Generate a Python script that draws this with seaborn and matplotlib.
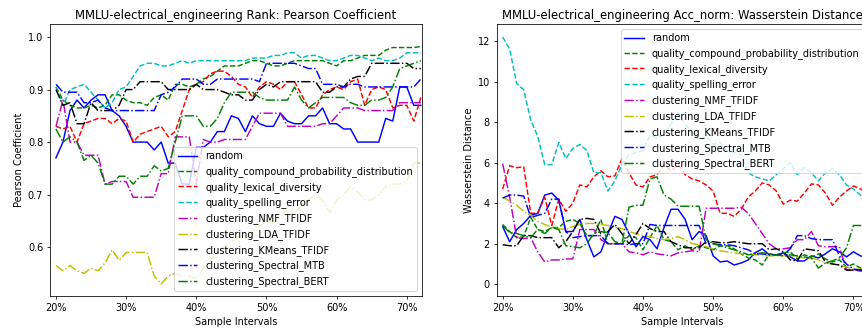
import numpy as np
import matplotlib
matplotlib.use("Agg")
import matplotlib.pyplot as plt
from matplotlib.ticker import FuncFormatter
import seaborn as sns

# sample intervals in percent
pcts = np.arange(20, 73)

# --- Rank: Pearson Coefficient ---
rank_random = [.770, .800, .860, .880, .865, .880, .890, .890, .860, .850,
               .830, .800, .800, .800, .785, .800, .760, .760, .720, .720,
               .790, .790, .800, .820, .820, .850, .845, .820, .850, .835,
               .830, .830, .855, .840, .835, .835, .850, .850, .865, .835,
               .835, .825, .825, .800, .800, .800, .800, .845, .840, .905,
               .905, .870, .870]
rank_compound = [.905, .880, .870, .865, .865, .870, .865, .870, .890, .890,
                 .880, .875, .875, .870, .885, .890, .880, .910, .910, .905,
                 .910, .920, .925, .935, .945, .945, .945, .950, .955, .955,
                 .950, .945, .945, .950, .955, .955, .955, .955, .955, .950,
                 .945, .955, .955, .960, .965, .965, .965, .975, .980, .980,
                 .980, .980, .982]
rank_lexical = [.830, .825, .830, .800, .835, .840, .845, .845, .835, .845,
                .840, .800, .815, .820, .825, .830, .810, .820, .860, .900,
                .910, .915, .930, .935, .935, .925, .910, .905, .885, .905,
                .915, .910, .900, .915, .915, .890, .865, .865, .890, .900,
                .905, .900, .915, .920, .870, .900, .905, .900, .865, .870,
                .870, .840, .885]
rank_spelling = [.905, .870, .900, .905, .910, .895, .880, .865, .875, .900,
                 .905, .925, .945, .950, .950, .945, .945, .950, .955, .950,
                 .955, .955, .955, .955, .955, .955, .955, .955, .960, .960,
                 .960, .965, .965, .970, .970, .960, .965, .965, .960, .955,
                 .955, .960, .965, .965, .960, .955, .960, .955, .955, .960,
                 .970, .970, .970]
rank_nmf = [.830, .880, .800, .800, .775, .775, .775, .720, .725, .725,
            .725, .695, .695, .695, .695, .740, .740, .810, .810, .810,
            .720, .805, .800, .800, .805, .805, .805, .805, .830, .855,
            .855, .855, .855, .830, .830, .830, .830, .830, .835, .835,
            .850, .865, .865, .865, .860, .860, .860, .860, .860, .875,
            .875, .875, .875]
rank_lda = [.565, .555, .565, .555, .550, .560, .555, .570, .595, .575,
            .590, .590, .590, .590, .545, .530, .545, .550, .545, .545,
            .540, .560, .575, .590, .600, .610, .620, .615, .630, .640,
            .650, .645, .660, .670, .665, .680, .690, .700, .690, .665,
            .690, .700, .715, .705, .690, .690, .700, .715, .720, .720,
            .725, .760, .760]
rank_kmeans = [.900, .870, .875, .835, .835, .875, .860, .860, .860, .870,
               .900, .900, .915, .915, .915, .915, .900, .900, .900, .900,
               .910, .900, .900, .900, .895, .890, .890, .880, .880, .900,
               .910, .905, .915, .915, .915, .915, .915, .915, .895, .895,
               .905, .905, .920, .925, .925, .950, .950, .950, .950, .950,
               .950, .940, .940]
rank_mtb = [.910, .895, .895, .895, .875, .875, .880, .865, .860, .860,
            .860, .860, .860, .860, .860, .890, .895, .905, .920, .920,
            .920, .910, .910, .920, .920, .920, .920, .920, .920, .915,
            .950, .950, .950, .950, .950, .945, .940, .940, .910, .910,
            .910, .905, .910, .910, .905, .905, .905, .905, .905, .905,
            .905, .905, .920]
rank_bert = [.825, .800, .810, .800, .765, .775, .760, .720, .720, .735,
             .735, .720, .735, .735, .755, .745, .750, .800, .850, .850,
             .850, .830, .830, .845, .875, .895, .895, .895, .895, .885,
             .880, .880, .880, .880, .905, .880, .865, .875, .885, .885,
             .885, .885, .875, .870, .870, .880, .880, .885, .905, .940,
             .945, .950, .955]

# --- Acc_norm: Wasserstein Distance ---
wd_random = [2.85, 2.1, 2.7, 3.0, 3.4, 3.5, 4.4, 4.5, 4.15, 2.6,
             2.6, 3.2, 2.2, 1.35, 1.6, 2.5, 3.35, 3.2, 2.5, 1.85,
             2.35, 2.2, 1.75, 2.8, 3.7, 3.7, 3.2, 2.2, 2.6, 2.4,
             1.4, 1.1, 1.15, 0.95, 1.05, 1.2, 1.55, 1.75, 1.45, 1.45,
             1.55, 1.35, 1.15, 1.15, 1.4, 1.3, 1.5, 1.75, 1.6, 1.35,
             1.6, 1.4, 1.3]
wd_compound = [2.95, 2.6, 2.3, 2.35, 3.3, 2.7, 2.6, 2.8, 2.8, 3.1,
               3.2, 3.0, 2.4, 2.4, 3.2, 2.0, 2.0, 2.0, 2.4, 2.3,
               1.7, 2.3, 2.9, 2.2, 2.1, 1.7, 1.9, 1.7, 1.9, 1.8,
               1.7, 1.9, 1.9, 1.75, 1.5, 1.3, 1.2, 0.95, 1.5, 1.45,
               1.55, 1.6, 1.25, 1.45, 1.35, 1.5, 1.25, 1.1, 1.2, 0.85,
               1.0, 0.8, 0.8]
wd_lexical = [4.7, 5.85, 5.75, 5.8, 3.5, 3.5, 4.3, 2.9, 4.2, 3.6,
              4.0, 4.9, 4.8, 5.3, 5.6, 5.3, 5.35, 6.2, 5.5, 4.9,
              4.8, 5.3, 5.4, 5.9, 5.6, 5.9, 5.4, 5.2, 5.1, 4.9,
              4.6, 3.5, 3.5, 3.35, 3.7, 4.3, 4.6, 5.0, 4.9, 4.6,
              3.95, 4.15, 4.1, 4.5, 4.95, 4.9, 4.5, 3.9, 4.3, 4.6,
              4.85, 4.7, 4.5]
wd_spelling = [12.2, 11.6, 9.9, 9.6, 8.1, 7.3, 5.9, 5.9, 7.0, 6.2,
               6.7, 6.9, 6.6, 5.5, 5.5, 4.6, 5.1, 5.9, 6.4, 6.5,
               6.6, 7.35, 7.2, 7.4, 7.9, 8.5, 7.9, 7.5, 7.1, 7.3,
               6.9, 7.0, 6.6, 6.5, 6.4, 5.5, 5.3, 5.2, 5.1, 5.4,
               5.7, 6.0, 5.4, 5.75, 5.5, 5.1, 5.5, 5.7, 5.4, 4.9,
               4.7, 4.4, 3.8]
wd_nmf = [5.95, 4.3, 2.3, 2.25, 2.3, 1.6, 1.1, 1.2, 1.2, 1.25,
          1.25, 2.7, 2.7, 2.7, 2.2, 2.0, 2.0, 2.0, 1.6, 1.55,
          1.45, 1.6, 1.5, 1.45, 1.4, 1.55, 1.6, 1.65, 1.6, 3.75,
          3.75, 3.75, 3.75, 3.75, 3.8, 3.5, 3.0, 2.5, 2.0, 1.75,
          1.75, 1.8, 2.2, 2.2, 2.6, 1.9, 1.85, 1.85, 1.85, 0.7,
          0.7, 0.65, 0.65]
wd_lda = [4.3, 4.1, 3.9, 3.6, 3.4, 3.1, 2.95, 2.8, 2.75, 2.7,
          2.85, 2.95, 3.0, 3.0, 2.95, 2.9, 2.8, 2.75, 2.6, 2.5,
          2.4, 2.35, 2.25, 2.2, 2.25, 2.35, 2.2, 2.0, 1.95, 1.85,
          1.75, 1.65, 1.6, 1.55, 1.5, 1.5, 1.45, 1.45, 1.4, 1.4,
          1.4, 1.4, 1.35, 1.3, 1.3, 1.2, 1.05, 1.0, 0.95, 0.85,
          0.75, 0.75, 0.7]
wd_kmeans = [1.95, 1.9, 1.9, 2.4, 2.4, 2.3, 2.3, 2.3, 1.8, 2.1,
             2.6, 3.2, 3.25, 3.2, 2.5, 2.6, 2.95, 2.5, 2.0, 2.45,
             3.0, 2.75, 2.6, 2.6, 2.1, 1.95, 1.8, 1.8, 1.8, 2.1,
             2.1, 2.05, 2.05, 2.1, 2.05, 2.0, 2.0, 2.0, 1.7, 1.75,
             1.6, 1.2, 1.15, 1.75, 1.7, 1.65, 1.1, 1.0, 0.95, 0.7,
             0.7, 0.7, 0.7]
wd_mtb = [4.25, 4.4, 4.4, 4.35, 3.3, 3.4, 3.5, 4.2, 4.2, 2.6,
          2.3, 2.35, 2.4, 2.4, 2.4, 2.0, 2.0, 2.0, 1.95, 2.0,
          2.0, 2.95, 2.9, 2.9, 2.9, 2.9, 2.9, 2.9, 2.9, 2.0,
          2.0, 1.95, 1.95, 1.9, 1.8, 1.7, 1.5, 1.5, 1.45, 1.45,
          1.45, 1.75, 2.4, 2.4, 2.25, 2.2, 2.2, 2.2, 1.4, 1.0,
          0.75, 0.7, 0.7]
wd_bert = [2.9, 2.55, 2.5, 2.4, 2.3, 2.7, 2.5, 2.8, 2.7, 1.9,
           1.85, 1.8, 2.0, 2.5, 2.6, 2.55, 2.1, 2.0, 3.8, 3.9,
           3.9, 5.2, 5.3, 4.4, 4.2, 3.85, 3.85, 3.85, 3.85, 2.2,
           2.0, 1.9, 1.8, 1.7, 1.6, 1.45, 1.5, 1.55, 1.5, 1.45,
           1.4, 1.45, 1.4, 1.35, 1.3, 0.8, 1.05, 1.15, 1.3, 1.8,
           2.9, 2.9, 2.9]

names = ["random",
         "quality_compound_probability_distribution",
         "quality_lexical_diversity",
         "quality_spelling_error",
         "clustering_NMF_TFIDF",
         "clustering_LDA_TFIDF",
         "clustering_KMeans_TFIDF",
         "clustering_Spectral_MTB",
         "clustering_Spectral_BERT"]
colors = ["b", "g", "r", "c", "m", "y", "k", "b", "g"]
styles = ["-", "--", "--", "--", "-.", "-.", "-.", "-.", "-."]

rank_series = [rank_random, rank_compound, rank_lexical, rank_spelling, rank_nmf,
               rank_lda, rank_kmeans, rank_mtb, rank_bert]
wd_series = [wd_random, wd_compound, wd_lexical, wd_spelling, wd_nmf,
             wd_lda, wd_kmeans, wd_mtb, wd_bert]

DPI = 70
fig = plt.figure(figsize=(862 / DPI, 330 / DPI), dpi=DPI)
ax1 = fig.add_axes([0.058, 0.103, 0.431, 0.823])
ax2 = fig.add_axes([0.5762, 0.103, 0.431, 0.823])

pct_fmt = FuncFormatter(lambda v, _: f"{v:.0f}%")


def draw(ax, series, title, ylabel, loc):
    for vals, name, c, ls in zip(series, names, colors, styles):
        sns.lineplot(x=pcts, y=vals, ax=ax, color=c, linestyle=ls,
                     linewidth=1.5, label=name)
    ax.set_title(title)
    ax.set_xlabel("Sample Intervals")
    ax.set_ylabel(ylabel)
    ax.set_xticks(np.arange(20, 71, 10))
    ax.xaxis.set_major_formatter(pct_fmt)
    ax.set_xlim(19.15, 72.1)
    ax.legend(loc=loc)


draw(ax1, rank_series, "MMLU-electrical_engineering Rank: Pearson Coefficient",
     "Pearson Coefficient", "lower right")
ax1.set_ylim(0.507, 1.024)
ax1.set_yticks([0.6, 0.7, 0.8, 0.9, 1.0])

draw(ax2, wd_series, "MMLU-electrical_engineering Acc_norm: Wasserstein Distance",
     "Wasserstein Distance", "upper right")
ax2.set_ylim(-0.58, 12.82)
ax2.set_yticks([0, 2, 4, 6, 8, 10, 12])

fig.savefig("out.png", dpi=DPI)
